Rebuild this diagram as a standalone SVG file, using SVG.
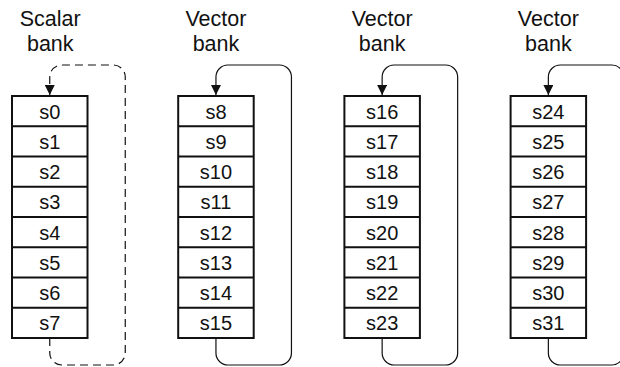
<svg xmlns="http://www.w3.org/2000/svg" width="620" height="367" viewBox="0 0 620 367">
<defs>
<style>
.lbl{font-family:"Liberation Sans",Arial,sans-serif;font-size:21.5px;fill:#111;text-anchor:middle}
.cell{font-family:"Liberation Sans",Arial,sans-serif;font-size:20px;fill:#111;text-anchor:middle}
.box{fill:#fff;stroke:#111;stroke-width:2}
.div{stroke:#111;stroke-width:1.8}
.loop{fill:none;stroke:#111;stroke-width:1.2;marker-end:url(#ah)}
.dash{stroke-dasharray:8 5}
</style>
<marker id="ah" viewBox="0 0 10 10" refX="10" refY="5" markerWidth="10" markerHeight="10" markerUnits="userSpaceOnUse" orient="auto">
<path d="M0,0 L10,5 L0,10 Z" fill="#111"/>
</marker>
</defs>
<rect width="620" height="367" fill="#fff"/>
<g id="connectors">
<path class="loop dash" d="M49.75,338 V353 A12,12 0 0 0 61.75,365 H113.25 A12,12 0 0 0 125.25,353 V77 A12,12 0 0 0 113.25,65 H61.75 A12,12 0 0 0 49.75,77 V95"/>
<path class="loop" d="M215.95,338 V353 A12,12 0 0 0 227.95,365 H279.45 A12,12 0 0 0 291.45,353 V77 A12,12 0 0 0 279.45,65 H227.95 A12,12 0 0 0 215.95,77 V95"/>
<path class="loop" d="M382.15,338 V353 A12,12 0 0 0 394.15,365 H445.65 A12,12 0 0 0 457.65,353 V77 A12,12 0 0 0 445.65,65 H394.15 A12,12 0 0 0 382.15,77 V95"/>
<path class="loop" d="M548.35,338 V353 A12,12 0 0 0 560.35,365 H611.85 A12,12 0 0 0 623.85,353 V77 A12,12 0 0 0 611.85,65 H560.35 A12,12 0 0 0 548.35,77 V95"/>
</g>
<g id="bank0">
<text class="lbl" x="50.25" y="26">Scalar</text>
<text class="lbl" x="50.25" y="51">bank</text>
<rect class="box" x="12" y="96" width="75.5" height="242"/>
<path class="div" d="M12,126.25H87.5M12,156.5H87.5M12,186.75H87.5M12,217H87.5M12,247.25H87.5M12,277.5H87.5M12,307.75H87.5"/>
<text class="cell" x="49.75" y="118.5">s0</text>
<text class="cell" x="49.75" y="148.75">s1</text>
<text class="cell" x="49.75" y="179">s2</text>
<text class="cell" x="49.75" y="209.25">s3</text>
<text class="cell" x="49.75" y="239.5">s4</text>
<text class="cell" x="49.75" y="269.75">s5</text>
<text class="cell" x="49.75" y="300">s6</text>
<text class="cell" x="49.75" y="330.25">s7</text>
</g>
<g id="bank1">
<text class="lbl" x="215.95" y="26">Vector</text>
<text class="lbl" x="215.95" y="51">bank</text>
<rect class="box" x="178.2" y="96" width="75.5" height="242"/>
<path class="div" d="M178.2,126.25H253.7M178.2,156.5H253.7M178.2,186.75H253.7M178.2,217H253.7M178.2,247.25H253.7M178.2,277.5H253.7M178.2,307.75H253.7"/>
<text class="cell" x="215.95" y="118.5">s8</text>
<text class="cell" x="215.95" y="148.75">s9</text>
<text class="cell" x="215.95" y="179">s10</text>
<text class="cell" x="215.95" y="209.25">s11</text>
<text class="cell" x="215.95" y="239.5">s12</text>
<text class="cell" x="215.95" y="269.75">s13</text>
<text class="cell" x="215.95" y="300">s14</text>
<text class="cell" x="215.95" y="330.25">s15</text>
</g>
<g id="bank2">
<text class="lbl" x="382.15" y="26">Vector</text>
<text class="lbl" x="382.15" y="51">bank</text>
<rect class="box" x="344.4" y="96" width="75.5" height="242"/>
<path class="div" d="M344.4,126.25H419.9M344.4,156.5H419.9M344.4,186.75H419.9M344.4,217H419.9M344.4,247.25H419.9M344.4,277.5H419.9M344.4,307.75H419.9"/>
<text class="cell" x="382.15" y="118.5">s16</text>
<text class="cell" x="382.15" y="148.75">s17</text>
<text class="cell" x="382.15" y="179">s18</text>
<text class="cell" x="382.15" y="209.25">s19</text>
<text class="cell" x="382.15" y="239.5">s20</text>
<text class="cell" x="382.15" y="269.75">s21</text>
<text class="cell" x="382.15" y="300">s22</text>
<text class="cell" x="382.15" y="330.25">s23</text>
</g>
<g id="bank3">
<text class="lbl" x="548.35" y="26">Vector</text>
<text class="lbl" x="548.35" y="51">bank</text>
<rect class="box" x="510.6" y="96" width="75.5" height="242"/>
<path class="div" d="M510.6,126.25H586.1M510.6,156.5H586.1M510.6,186.75H586.1M510.6,217H586.1M510.6,247.25H586.1M510.6,277.5H586.1M510.6,307.75H586.1"/>
<text class="cell" x="548.35" y="118.5">s24</text>
<text class="cell" x="548.35" y="148.75">s25</text>
<text class="cell" x="548.35" y="179">s26</text>
<text class="cell" x="548.35" y="209.25">s27</text>
<text class="cell" x="548.35" y="239.5">s28</text>
<text class="cell" x="548.35" y="269.75">s29</text>
<text class="cell" x="548.35" y="300">s30</text>
<text class="cell" x="548.35" y="330.25">s31</text>
</g>
</svg>
